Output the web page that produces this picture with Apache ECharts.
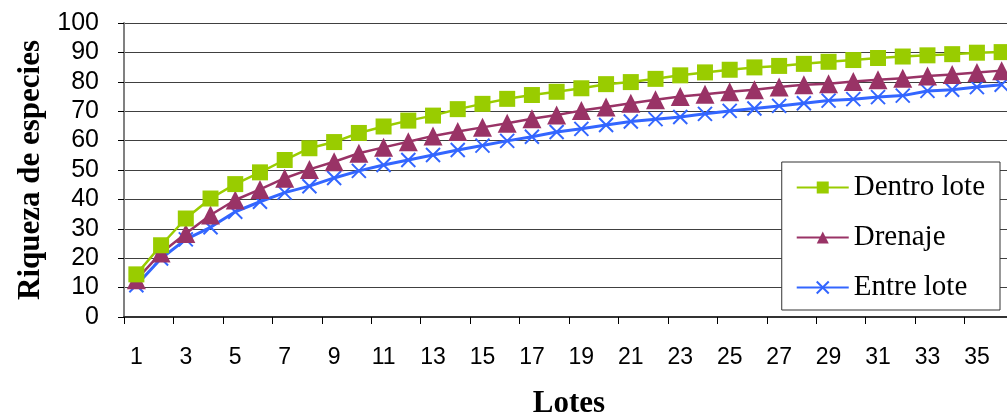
<!DOCTYPE html>
<html>
<head>
<meta charset="utf-8">
<script src="https://cdn.jsdelivr.net/npm/echarts@6/dist/echarts.min.js"></script>
<style>
  html, body { margin: 0; padding: 0; background: #ffffff; }
  #chart { width: 1007px; height: 419px; }
</style>
</head>
<body>
<div id="chart"></div>
<script>
// Cumulative species richness per lot, three sampling zones
const lotes = Array.from({ length: 36 }, (_, i) => String(i + 1));

const dentroLote = [
  14.5, 24.4, 33.5, 40.3, 45.2, 49.2, 53.4, 57.4, 59.5, 62.6,
  64.8, 66.8, 68.5, 70.7, 72.5, 74.2, 75.5, 76.6, 77.8, 79.2,
  79.9, 81.0, 82.2, 83.2, 84.1, 84.9, 85.4, 86.1, 86.8, 87.4,
  88.1, 88.6, 89.0, 89.4, 89.9, 90.1
];

const drenaje = [
  12.7, 21.8, 28.4, 34.7, 39.8, 43.4, 47.2, 50.2, 52.8, 55.7,
  57.7, 59.6, 61.6, 63.1, 64.5, 65.9, 67.4, 68.7, 70.2, 71.4,
  72.7, 73.9, 75.0, 75.8, 76.6, 77.3, 78.2, 79.0, 79.3, 80.1,
  80.7, 81.2, 82.0, 82.5, 83.2, 83.8
];

const entreLote = [
  10.8, 19.9, 26.4, 30.5, 35.8, 39.2, 42.3, 44.5, 47.3, 49.7,
  51.7, 53.4, 55.1, 56.8, 58.3, 59.9, 61.3, 62.9, 64.0, 65.3,
  66.5, 67.3, 68.0, 69.1, 70.1, 70.9, 71.8, 72.7, 73.6, 74.1,
  74.8, 75.3, 76.9, 77.3, 78.2, 79.0
];

const yTicks = { min: 0, max: 100, interval: 10 };

const crossPath = 'path://M0,0L10,10M10,0L0,10';

const chart = echarts.init(document.getElementById('chart'), null, { renderer: 'canvas' });

chart.setOption({
  backgroundColor: '#ffffff',
  animation: false,
  grid: { left: 124, top: 23, right: -7, bottom: 102, containLabel: false, outerBoundsMode: 'none' },
  legend: {
    right: 7,
    top: 162,
    orient: 'vertical',
    backgroundColor: '#ffffff',
    borderColor: '#333333',
    borderWidth: 1,
    padding: [11, 15, 8, 14],
    itemWidth: 52,
    itemHeight: 15,
    itemGap: 21,
    textStyle: { fontFamily: 'Liberation Serif', fontSize: 29, color: '#000000', lineHeight: 28 },
    data: ['Dentro lote', 'Drenaje', 'Entre lote']
  },
  xAxis: {
    type: 'category',
    data: lotes,
    boundaryGap: true,
    name: 'Lotes',
    nameLocation: 'middle',
    nameGap: 71,
    nameTextStyle: { fontFamily: 'Liberation Serif', fontSize: 31, fontWeight: 'bold', color: '#000000' },
    axisLine: { lineStyle: { color: '#333333', width: 2 } },
    axisTick: { show: true, alignWithLabel: false, length: 7, lineStyle: { color: '#000000', width: 1 } },
    axisLabel: { interval: 1, margin: 29, fontFamily: 'Liberation Sans', fontSize: 23, color: '#000000' },
    splitLine: { show: false }
  },
  yAxis: {
    type: 'value',
    min: yTicks.min,
    max: yTicks.max,
    interval: yTicks.interval,
    name: 'Riqueza de especies',
    nameLocation: 'middle',
    nameGap: 74,
    nameTextStyle: { fontFamily: 'Liberation Serif', fontSize: 31, fontWeight: 'bold', color: '#000000' },
    axisLine: { show: true, lineStyle: { color: '#808080', width: 2 } },
    axisTick: { show: true, length: 6, lineStyle: { color: '#000000', width: 1 } },
    axisLabel: { margin: 25, fontFamily: 'Liberation Sans', fontSize: 25, color: '#000000' },
    splitLine: { show: true, lineStyle: { color: '#404040', width: 1 } }
  },
  series: [
    {
      name: 'Dentro lote',
      type: 'line',
      data: dentroLote,
      symbol: 'rect',
      symbolSize: 16,
      showAllSymbol: true,
      lineStyle: { color: '#99cc00', width: 2.5 },
      itemStyle: { color: '#99cc00' },
      z: 3
    },
    {
      name: 'Drenaje',
      type: 'line',
      data: drenaje,
      symbol: 'triangle',
      symbolSize: 19,
      showAllSymbol: true,
      lineStyle: { color: '#993366', width: 2.5 },
      itemStyle: { color: '#993366' },
      z: 2
    },
    {
      name: 'Entre lote',
      type: 'line',
      data: entreLote,
      symbol: crossPath,
      symbolSize: 14,
      showAllSymbol: true,
      lineStyle: { color: '#3366ff', width: 3 },
      itemStyle: { color: 'rgba(0,0,0,0)', borderColor: '#3366ff', borderWidth: 2 },
      z: 1
    }
  ]
});
</script>
</body>
</html>
